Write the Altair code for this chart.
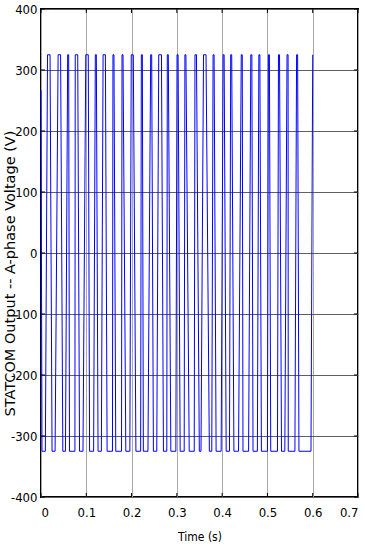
import altair as alt
import pandas as pd

# STATCOM A-phase output voltage: a two-level PWM waveform switching between
# +325 V and -325 V. Each low stretch and each high pulse is listed by the
# times (s) at which it starts and ends.
low_start = [0.0022, 0.0244, 0.0482, 0.0629, 0.0851, 0.1073, 0.1260, 0.1460,
             0.1651, 0.1873, 0.2096, 0.2260, 0.2482, 0.2704, 0.2867, 0.3073,
             0.3273, 0.3496, 0.3718, 0.3867, 0.4089, 0.4260, 0.4460, 0.4682,
             0.4867, 0.5073, 0.5311, 0.5460, 0.5696]
low_end = [0.0096, 0.0311, 0.0540, 0.0749, 0.0927, 0.1162, 0.1333, 0.1578,
           0.1778, 0.1962, 0.2200, 0.2362, 0.2556, 0.2778, 0.2978, 0.3162,
           0.3384, 0.3533, 0.3771, 0.3978, 0.4162, 0.4362, 0.4584, 0.4778,
           0.5000, 0.5222, 0.5384, 0.5607, 0.5962]
high_start = [0.0144, 0.0378, 0.0589, 0.0756, 0.0989, 0.1200, 0.1371, 0.1589,
              0.1789, 0.1993, 0.2216, 0.2422, 0.2600, 0.2789, 0.3004, 0.3178,
              0.3400, 0.3589, 0.3800, 0.4022, 0.4189, 0.4422, 0.4633, 0.4811,
              0.5022, 0.5244, 0.5433, 0.5644]
high_end = [0.0200, 0.0433, 0.0611, 0.0811, 0.1044, 0.1222, 0.1422, 0.1611,
            0.1811, 0.2038, 0.2238, 0.2444, 0.2660, 0.2811, 0.3027, 0.3200,
            0.3433, 0.3644, 0.3822, 0.4044, 0.4211, 0.4444, 0.4656, 0.4833,
            0.5044, 0.5267, 0.5456, 0.5667]

v_high = 325
v_low = -325
t_first, v_first = 0.0, 267
t_last, v_last = 0.6, 325

x_ticks = [0, 0.1, 0.2, 0.3, 0.4, 0.5, 0.6, 0.7]
y_ticks = [-400, -300, -200, -100, 0, 100, 200, 300, 400]

# assemble the polyline vertices in drawing order
pts = [(t_first, v_first)]
for k in range(len(low_start)):
    pts.append((low_start[k], v_low))
    pts.append((low_end[k], v_low))
    if k < len(high_start):
        pts.append((high_start[k], v_high))
        pts.append((high_end[k], v_high))
pts.append((t_last, v_last))
wave = pd.DataFrame({"t": [p[0] for p in pts], "v": [p[1] for p in pts],
                     "i": list(range(len(pts)))})

W, H = 317, 488
label_font = "Liberation Sans Narrow, DejaVu Sans Condensed, Liberation Sans"

x_scale = alt.Scale(domain=[0, 0.7], nice=False, zero=False)
y_scale = alt.Scale(domain=[-400, 400], nice=False, zero=False)

line = alt.Chart(wave).mark_line(color="#0000ff", strokeWidth=1, interpolate="linear").encode(
    x=alt.X("t:Q", scale=x_scale,
            axis=alt.Axis(values=x_ticks, labelExpr="'' + datum.value",
                          title="Time (s)", titleX=W / 2, titleY=39,
                          titleBaseline="middle", titleFont=label_font,
                          titleFontSize=12, titleFontWeight="normal",
                          labelPadding=9, labelBaseline="top",
                          grid=True, gridColor="#a8a8a8", gridWidth=1)),
    y=alt.Y("v:Q", scale=y_scale,
            axis=alt.Axis(values=y_ticks, labelExpr="'' + datum.value",
                          title="STATCOM Output  -- A-phase Voltage (V)",
                          titleX=-31, titleY=264, titleAngle=270,
                          titleAlign="center", titleBaseline="middle",
                          titleFont="DejaVu Sans", titleFontSize=14.5,
                          titleFontWeight="normal", labelPadding=4,
                          grid=True, gridColor="#606060", gridWidth=1)),
    order="i:Q",
)

# inward tick marks on all four sides of the frame
xt = pd.DataFrame({"t": x_ticks})
yt = pd.DataFrame({"v": y_ticks})
tick_len = 4

ticks_bottom = alt.Chart(xt).mark_rule(color="black", strokeWidth=1).encode(
    x="t:Q", y=alt.value(H), y2=alt.value(H - tick_len))
ticks_top = alt.Chart(xt).mark_rule(color="black", strokeWidth=1).encode(
    x="t:Q", y=alt.value(0), y2=alt.value(tick_len))
ticks_left = alt.Chart(yt).mark_rule(color="black", strokeWidth=1).encode(
    y="v:Q", x=alt.value(0), x2=alt.value(tick_len))
ticks_right = alt.Chart(yt).mark_rule(color="black", strokeWidth=1).encode(
    y="v:Q", x=alt.value(W), x2=alt.value(W - tick_len))

chart = alt.layer(line, ticks_bottom, ticks_top, ticks_left, ticks_right).properties(
    width=W, height=H,
    autosize=alt.AutoSizeParams(type="none"),
    padding={"left": 41, "top": 9, "right": 7, "bottom": 49},
    background="white",
).configure_axis(
    domain=False, ticks=False,
    labelFont=label_font, labelFontSize=13, labelColor="black", titleColor="black",
).configure_view(
    stroke="black", strokeWidth=2,
)

chart.save("out.html", embed_options={"renderer": "svg", "actions": False})
